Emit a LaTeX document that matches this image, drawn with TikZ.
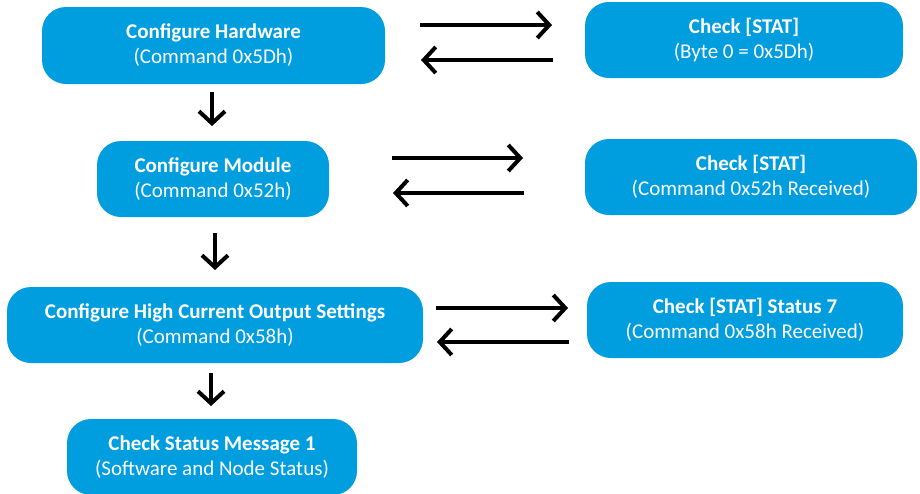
\documentclass[tikz,border=0pt]{standalone}
\usepackage{fontspec}
\setmainfont{Carlito}
\usetikzlibrary{arrows.meta}
\definecolor{boxblue}{RGB}{0,157,223}
\tikzset{
  flowbox/.style={fill=boxblue, text=white, rounded corners=24pt, align=center,
    font=\fontsize{21}{25}\selectfont, inner sep=0pt},
  flowarrow/.style={line width=4pt, -{Straight Barb[length=12pt,width=26pt,line width=4pt]}}
}
\newcommand{\ttl}[1]{\textbf{#1}}
\begin{document}
\begin{tikzpicture}[x=1pt,y=-1pt]
\useasboundingbox (0,0) rectangle (920,493);

% left column: configuration steps
\node[flowbox, minimum width=343pt, minimum height=77pt] (hw) at (213.5,45.5)
  {\ttl{Configure Hardware}\\(Command 0x5Dh)};
\node[flowbox, minimum width=232pt, minimum height=76pt] (mod) at (213,179)
  {\ttl{Configure Module}\\(Command 0x52h)};
\node[flowbox, minimum width=416pt, minimum height=76pt] (hc) at (215,325)
  {\ttl{Configure High Current Output Settings}\\(Command 0x58h)};
\node[flowbox, minimum width=290pt, minimum height=76pt] (msg) at (212,457)
  {\ttl{Check Status Message 1}\\(Software and Node Status)};

% right column: status checks
\node[flowbox, minimum width=318pt, minimum height=76pt] (st1) at (744,40)
  {\ttl{Check [STAT]}\\(Byte 0 = 0x5Dh)};
\node[flowbox, minimum width=332pt, minimum height=76pt] (st2) at (751,177)
  {\ttl{Check [STAT]}\\(Command 0x52h Received)};
\node[flowbox, minimum width=316pt, minimum height=76pt] (st3) at (745,320)
  {\ttl{Check [STAT] Status 7}\\(Command 0x58h Received)};

% arrow end points
\coordinate (a1s) at (420,25);  \coordinate (a1e) at (552,25);
\coordinate (b1s) at (553,60);  \coordinate (b1e) at (421,60);
\coordinate (a2s) at (392,158); \coordinate (a2e) at (523,158);
\coordinate (b2s) at (524,193); \coordinate (b2e) at (393,193);
\coordinate (a3s) at (436,308); \coordinate (a3e) at (568,308);
\coordinate (b3s) at (569,342); \coordinate (b3e) at (437,342);
\coordinate (d1s) at (212,92);  \coordinate (d1e) at (212,126);
\coordinate (d2s) at (215,233); \coordinate (d2e) at (215,270);
\coordinate (d3s) at (211,373); \coordinate (d3e) at (211,406);

% request / response arrows
\draw[flowarrow] (a1s) -- (a1e);
\draw[flowarrow] (b1s) -- (b1e);
\draw[flowarrow] (a2s) -- (a2e);
\draw[flowarrow] (b2s) -- (b2e);
\draw[flowarrow] (a3s) -- (a3e);
\draw[flowarrow] (b3s) -- (b3e);

% step-to-step arrows
\draw[flowarrow] (d1s) -- (d1e);
\draw[flowarrow] (d2s) -- (d2e);
\draw[flowarrow] (d3s) -- (d3e);
\end{tikzpicture}
\end{document}
